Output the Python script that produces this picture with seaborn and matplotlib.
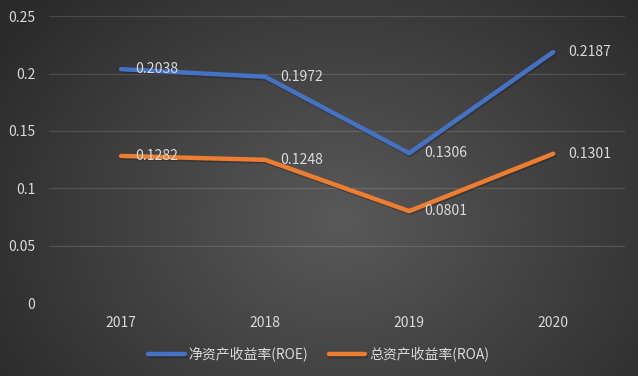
import numpy as np
import pandas as pd
import matplotlib
matplotlib.use('Agg')
import matplotlib.pyplot as plt
import matplotlib.patheffects as pe
import seaborn as sns

# --- 資料 ---
years = ['2017', '2018', '2019', '2020']
roe = [0.2038, 0.1972, 0.1306, 0.2187]
roa = [0.1282, 0.1248, 0.0801, 0.1301]
series_names = ['净资产收益率(ROE)', '总资产收益率(ROA)']
yticks = [0, 0.05, 0.1, 0.15, 0.2, 0.25]
ytick_labels = ['0', '0.05', '0.1', '0.15', '0.2', '0.25']

df = pd.DataFrame({
    '年份': years * 2,
    '数值': roe + roa,
    '指标': [series_names[0]] * len(years) + [series_names[1]] * len(years),
})

sns.set_theme(style='white')
plt.rcParams['font.family'] = ['Noto Sans CJK SC', 'DejaVu Sans']
plt.rcParams['axes.unicode_minus'] = False

text_color = '#D9D9D9'
colors = ['#4472C4', '#ED7D31']

fig = plt.figure(figsize=(6.38, 3.76), dpi=100)

# 背景：放射狀漸層
bg = fig.add_axes([0, 0, 1, 1], zorder=-10)
h, w = 376, 638
yy, xx = np.mgrid[0:h, 0:w]
r = np.sqrt(((xx - 340) / 400.0) ** 2 + ((yy - 220) / 320.0) ** 2)
r = np.clip(r, 0, 1)
shade = 0.35 - 0.18 * r
bg.imshow(np.dstack([shade, shade, shade]), aspect='auto', extent=[0, 1, 0, 1])
bg.set_axis_off()

ax = fig.add_axes([0.077, 0.194, 0.903, 0.763])
ax.patch.set_alpha(0)

sns.lineplot(data=df, x='年份', y='数值', hue='指标', palette=colors,
             linewidth=3.2, ax=ax, sort=False, solid_capstyle='round',
             path_effects=[pe.SimpleLineShadow(offset=(0.8, -1.2), alpha=0.35), pe.Normal()])

# 資料標籤
for vals in [roe, roa]:
    for i, v in enumerate(vals):
        ax.annotate(f'{v:.4f}', (i, v), xytext=(10.5, 0), textcoords='offset points',
                    va='center', ha='left', color=text_color, fontsize=10.1,
                    family=['Noto Sans CJK SC', 'DejaVu Sans'])

ax.set_xlim(-0.5, 3.5)
ax.set_ylim(0, 0.25)
ax.set_yticks(yticks)
ax.set_yticklabels(ytick_labels)
ax.grid(axis='y', color='white', alpha=0.13, linewidth=0.9)
ax.set_axisbelow(True)
for s in ax.spines.values():
    s.set_visible(False)
ax.tick_params(axis='both', colors=text_color, labelsize=10, length=0)
ax.tick_params(axis='y', pad=10)
ax.tick_params(axis='x', pad=9)
ax.set_xlabel('')
ax.set_ylabel('')

handles, labels = ax.get_legend_handles_labels()
leg = fig.legend(handles, labels, loc='center', bbox_to_anchor=(0.5, 0.058), ncol=2,
                 frameon=False, fontsize=10, handlelength=2.6, columnspacing=1.5,
                 handletextpad=0.3)
for t in leg.get_texts():
    t.set_color(text_color)
if ax.get_legend():
    ax.get_legend().remove()

fig.savefig('out.png', dpi=100)
